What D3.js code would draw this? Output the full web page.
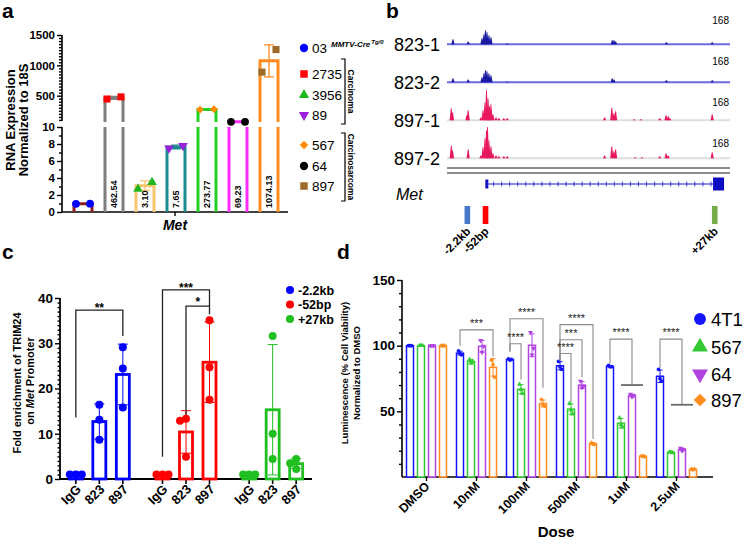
<!DOCTYPE html>
<html><head><meta charset="utf-8">
<script src="https://cdn.jsdelivr.net/npm/d3@7"></script>
<style>body{margin:0;background:#fff}svg{display:block}</style>
</head><body><svg id="c" width="745" height="547"></svg>
<script>
// ================= DATA =================
// Panel a : Met RNA expression
const aSamples = ["03","2735","3956","89","567","64","897"];
const aMeans   = [0.97, 462.54, 3.10, 7.65, 273.77, 69.23, 1074.13];
const aSD      = [0.02, 24.7, 0.57, 0.21, 5.3, 0.3, 263];
const aPoints  = [[0.96,0.98],[445.1,480.0],[2.7,3.5],[7.5,7.8],[270.0,277.5],[69.0,69.4],[888,1260]];
const aLowTicks  = [0,2,4,6,8,10];
const aHighTicks = [500,1000,1500];
const aGroupNames = ["Carcinoma","Carcinosarcoma"];
const aGroupMembers = [["2735","3956","89"],["567","64","897"]];

// Panel b : ChIP-seq tracks (peak position in kb from Met TSS, signal 0-168)
const bTracks = ["823-1","823-2","897-1","897-2"];
const bRange = 168;
const bPeaks823_1 = [[-3.9,24],[-2.1,14],[-0.47,29],[-0.24,48],[-0.06,67],[0.12,58],[0.35,43],[0.59,34],[2.5,5],[14.9,19],[15.1,19],[15.3,14],[21.3,10],[26.7,10]];
const bPeaks823_2 = [[-3.9,19],[-2.1,14],[-0.47,24],[-0.24,43],[-0.06,58],[0.12,53],[0.35,43],[0.59,34],[2.5,4],[14.9,19],[15.1,14],[21.3,10],[26.7,10]];
const bPeaks897_1 = [[-4.1,58],[-3.95,38],[-2.25,24],[-2.1,48],[-0.6,14],[-0.35,48],[-0.12,86],[0.06,144],[0.24,106],[0.41,67],[0.59,77],[0.82,29],[1.18,14],[1.53,10],[2.1,10],[2.5,10],[14.0,14],[14.85,62],[15.1,34],[15.3,43],[17.5,5],[18.3,5],[20.5,10],[21.25,24],[21.5,19],[21.7,10],[26.7,29]];
const bPeaks897_2 = [[-4.1,62],[-3.95,38],[-2.1,43],[-0.6,14],[-0.35,53],[-0.12,96],[0.06,134],[0.18,150],[0.35,86],[0.59,58],[0.82,24],[1.18,14],[1.53,10],[2.1,10],[2.5,10],[14.0,14],[14.85,58],[15.1,34],[15.3,43],[17.6,5],[18.4,5],[20.5,10],[21.25,24],[21.5,14],[26.7,29]];
const bSites   = ["-2.2kb","-52bp","+27kb"];
const bSitePos = [-2.2, -0.052, 27];
const bGeneSpan = [0.1, 27.5];

// Panel c : TRIM24 ChIP-qPCR
const cSites = ["-2.2kb","-52bp","+27kb"];
const cConds = ["IgG","823","897"];
const cMeans = [[1,12.7,23.1],[1,10.4,25.8],[1,15.3,3.4]];
const cSD    = [[0,3.9,6.7],[0,4.7,8.9],[0,14.4,1.1]];
const cPoints = [
  [[1,1,1],[16.4,13.1,8.7],[29.1,24.4,15.8]],
  [[1,1,1],[13.3,12.9,4.9],[35.1,24.7,17.5]],
  [[1,1,1],[31.6,10.0,4.4],[4.4,3.5,2.2]]
];
const cTicks = [0,10,20,30,40];
const cSig = [
  {site:"-2.2kb", a:"IgG", b:"897", top:37.3, ya:13.6, yb:31.6, label:"**"},
  {site:"-52bp",  a:"IgG", b:"897", top:41.8, ya:4.9,  yb:38.2, label:"***"},
  {site:"-52bp",  a:"823", b:"897", top:38.2, ya:14.2, yb:36.4, label:"*"}
];

// Panel d : cell viability
const dDoses = ["DMSO","10nM","100nM","500nM","1uM","2.5uM"];
const dCells = ["4T1","567","64","897"];
const dMeans = [
  [100,100,100,100],[94.3,88,99.5,83.5],[89.5,66.8,100.3,56],
  [84.7,51.7,70,25.3],[84.3,41,62,15.8],[76.7,18.8,21,5.8]
];
const dSD = [
  [0.4,0.4,0.4,0.4],[1.5,1.5,4.5,6.7],[0.5,3.5,8.7,2.6],
  [3.1,4,2.6,0.6],[0.6,3.6,1,0.3],[4.7,0.3,1,0.3]
];
const dPoints = [
  [[100,100,100],[100,100,100],[100,100,100],[100,100,100]],
  [[96,94,93],[89.5,86.5,88],[104,95,99.5],[89,85.5,76]],
  [[90,89,89.5],[70.5,66.5,63.5],[110,93,98],[59,55,54]],
  [[88,84,82],[56,51,48],[73,68,69],[26,25,25]],
  [[85,84,84],[45,40,38],[63,61,62],[16,16,15.5]],
  [[82,75,73],[19,19,18.5],[22,20,21],[6,5.5,6]]
];
const dTicks = [50,100,150];
const dSig = [
  {dose:"10nM",  a:"4T1", b:"897", top:112,   ya:100,  yb:91.7, label:"***"},
  {dose:"100nM", a:"4T1", b:"897", top:120.5, ya:95.5, yb:68,   label:"****"},
  {dose:"100nM", a:"4T1", b:"567", top:101.5, ya:95.5, yb:74,   label:"****"},
  {dose:"500nM", a:"4T1", b:"897", top:116,   ya:88.5, yb:29,   label:"****"},
  {dose:"500nM", a:"4T1", b:"64",  top:104.5, ya:88.5, yb:76,   label:"***"},
  {dose:"500nM", a:"4T1", b:"567", top:94,    ya:88.5, yb:57,   label:"****"},
  {dose:"1uM",   a:"4T1", b:"64",  top:105,   ya:86.5, yb:70,   label:"****", span:["567","897"]},
  {dose:"2.5uM", a:"4T1", b:"64",  top:105,   ya:83,   yb:55,   label:"****", span:["567","897"]}
];

// ================= DRAWING =================
const F = '"Liberation Sans", Arial, Helvetica, sans-serif';
const svg = d3.select("#c");
svg.append("rect").attr("width",745).attr("height",547).attr("fill","#fff");

function txt(g, s, x, y, o={}) {
  const t = g.append("text").attr("x",x).attr("y",y).text(s)
    .attr("font-family",F).attr("font-size",o.size||12)
    .attr("font-weight",o.weight||"normal").attr("fill",o.fill||"#000")
    .attr("text-anchor",o.anchor||"start");
  if (o.style) t.attr("font-style",o.style);
  if (o.rotate!==undefined) t.attr("transform",`rotate(${o.rotate},${x},${y})`);
  return t;
}
function styleAxis(g, fs) {
  g.selectAll("path.domain").remove();
  g.selectAll(".tick line").attr("stroke","#000").attr("stroke-width",1.4);
  g.selectAll(".tick text").attr("font-family",F).attr("font-size",fs)
    .attr("font-weight","bold").attr("fill","#000");
}
function symPath(type,size){ return d3.symbol().type(type).size(size)(); }

// panel letters
[["a",2,18],["b",386,18],["c",2,259],["d",337,259]].forEach(([l,x,y])=>
  txt(svg,l,x,y,{size:21,weight:"bold"}));

// ---------- Panel a ----------
(function(){
  const g = svg.append("g");
  const axX = 62, axY = 212;
  const x = d3.scalePoint().domain(aSamples).range([83,269]);
  const yL = d3.scaleLinear().domain([0,10]).range([212,127]);
  const yH = d3.scaleLinear().domain([0,1500]).range([126,35]);
  const lowTop = 127, highBot = 122;
  const yv = v => v<=10 ? yL(v) : yH(v);
  const barW = 18;
  const col = ["#8c1d1d","#7f7f7f","#f8c56e","#1d8a90","#22cf22","#ff2cff","#ff8b1e"];
  const mcol = ["#0000ff","#ff0000","#1eb81e","#9a1fd8","#ff8a00","#000000","#9e6a2a"];
  const shp = [d3.symbolCircle,d3.symbolSquare,d3.symbolTriangle,d3.symbolTriangle,d3.symbolSquare,d3.symbolCircle,d3.symbolSquare];
  const rot = [0,0,0,180,45,0,0];
  const ssz = [48,50,40,40,30,48,50];

  // axes
  g.append("line").attr("x1",axX).attr("x2",axX).attr("y1",lowTop).attr("y2",axY).attr("stroke","#000").attr("stroke-width",1.6);
  g.append("line").attr("x1",axX).attr("x2",axX).attr("y1",35).attr("y2",121).attr("stroke","#000").attr("stroke-width",1.6);
  g.append("line").attr("x1",axX).attr("x2",288).attr("y1",axY).attr("y2",axY).attr("stroke","#000").attr("stroke-width",1.6);
  g.append("g").attr("transform",`translate(${axX},0)`)
    .call(d3.axisLeft(yL).tickValues(aLowTicks).tickSize(5).tickPadding(2).tickFormat(d3.format("d")))
    .call(s=>styleAxis(s,11.5));
  g.append("g").attr("transform",`translate(${axX},0)`)
    .call(d3.axisLeft(yL).tickValues(d3.range(1,10,2)).tickSize(3).tickFormat(""))
    .call(s=>styleAxis(s,10));
  g.append("g").attr("transform",`translate(${axX},0)`)
    .call(d3.axisLeft(yH).tickValues(aHighTicks).tickSize(5).tickPadding(2).tickFormat(d3.format("d")))
    .call(s=>styleAxis(s,11.5));
  g.append("g").attr("transform",`translate(${axX},0)`)
    .call(d3.axisLeft(yH).tickValues(d3.range(100,1500,50).filter(v=>v%500)).tickSize(3).tickFormat(""))
    .call(s=>styleAxis(s,10));
  g.append("line").attr("x1",175).attr("x2",175).attr("y1",axY).attr("y2",axY+4).attr("stroke","#000").attr("stroke-width",1.4);
  txt(g,"Met",175,230,{size:14,weight:"bold",style:"italic",anchor:"middle"});
  txt(g,"RNA Expression",15,120,{size:13,weight:"bold",anchor:"middle",rotate:-90});
  txt(g,"Normalized to 18S",28,120,{size:13,weight:"bold",anchor:"middle",rotate:-90});

  aSamples.forEach((s,i)=>{
    const cx = x(s), x0 = cx-barW/2, x1 = cx+barW/2, m = aMeans[i];
    let d;
    if (m<=10) d = `M${x0},${yL(0)}V${yL(m)}H${x1}V${yL(0)}`;
    else d = `M${x0},${yL(0)}V${lowTop}M${x1},${yL(0)}V${lowTop}M${x0},${highBot}V${yH(m)}H${x1}V${highBot}`;
    g.append("path").attr("d",d).attr("fill","none").attr("stroke",col[i]).attr("stroke-width",3);
    // error bar
    const lo = m-aSD[i], hi = m+aSD[i];
    const ylo = m>10 ? Math.min(yH(lo),highBot) : yL(lo), yhi = yv(hi);
    g.append("path").attr("d",`M${cx},${ylo}V${yhi}M${cx-5},${yhi}H${cx+5}M${cx-5},${ylo}H${cx+5}`)
      .attr("stroke",col[i]).attr("stroke-width",1.3).attr("fill","none");
    // points
    aPoints[i].forEach((v,j)=>{
      g.append("path").attr("d",symPath(shp[i],ssz[i]))
        .attr("transform",`translate(${cx+(j?7:-7)},${yv(v)}) rotate(${rot[i]})`)
        .attr("fill",mcol[i]);
    });
    if (m>=1) txt(g,d3.format(".2f")(m),cx+3.3,208,{size:9,weight:"bold",rotate:-90});
  });

  // legend
  const ly = [48,74,95,115,145,166,186];
  aSamples.forEach((s,i)=>{
    g.append("path").attr("d",symPath(shp[i],ssz[i]+6))
      .attr("transform",`translate(304,${ly[i]}) rotate(${rot[i]})`).attr("fill",mcol[i]);
    txt(g,s,312,ly[i]+5,{size:13.5});
  });
  const sup = txt(g,"",331,47,{size:8,weight:"bold",style:"italic"});
  sup.append("tspan").text("MMTV-Cre");
  sup.append("tspan").text("Tg/0").attr("font-size",6).attr("dy",-3).attr("dx",1);
  // group brackets
  const gb = [[59,124],[133,201]];
  aGroupNames.forEach((n,k)=>{
    const [t,b] = gb[k];
    g.append("path").attr("d",`M341,${t}H345V${b}H341`).attr("fill","none").attr("stroke","#000").attr("stroke-width",1.2);
    txt(g,n,348,(t+b)/2,{size:8.5,weight:"bold",anchor:"middle",rotate:90});
  });
})();

// ---------- Panel b ----------
(function(){
  const g = svg.append("g");
  const x = d3.scaleLinear().domain([-4.6,28.8]).range([447,730]);
  const h = d3.scaleLinear().domain([0,bRange]).range([0,35]);
  const base = d3.scalePoint().domain(bTracks).range([44.3,158.3]);
  const lab168 = d3.scalePoint().domain(bTracks).range([24,147]);
  const peaks = [bPeaks823_1,bPeaks823_2,bPeaks897_1,bPeaks897_2];
  const pcol = ["#1a1aa0","#1a1aa0","#e8185e","#e8185e"];
  const lcol = ["#6a6ae0","#6a6ae0","#dedede","#dedede"];
  bTracks.forEach((t,i)=>{
    const b = base(t);
    g.append("line").attr("x1",447).attr("x2",730).attr("y1",b).attr("y2",b).attr("stroke",lcol[i]).attr("stroke-width",2);
    g.selectAll(null).data(peaks[i]).enter().append("path")
      .attr("d",d=>{const px=x(d[0]),ph=h(d[1]);return `M${px-1.6},${b}L${px-0.4},${b-ph}L${px+0.4},${b-ph}L${px+1.6},${b}Z`;})
      .attr("fill",pcol[i]);
    txt(g,t,394,b+7,{size:18});
    txt(g,String(bRange),729,lab168(t),{size:10,anchor:"end"});
  });
  [168,173].forEach(y=>g.append("line").attr("x1",447).attr("x2",730).attr("y1",y).attr("y2",y).attr("stroke","#8c8c8c").attr("stroke-width",2));
  txt(g,"Met",396,200,{size:16,style:"italic"});
  const gy = 184;
  g.append("line").attr("x1",x(bGeneSpan[0])).attr("x2",x(bGeneSpan[1])).attr("y1",gy).attr("y2",gy).attr("stroke","#1f1fc8").attr("stroke-width",1.2);
  g.selectAll(null).data(d3.range(0.9,26.8,0.95)).enter().append("line")
    .attr("x1",d=>x(d)).attr("x2",d=>x(d)).attr("y1",gy-2.5).attr("y2",gy+2.5).attr("stroke","#1f1fc8").attr("stroke-width",0.8);
  g.append("rect").attr("x",x(bGeneSpan[0])-1.5).attr("y",gy-4.5).attr("width",3).attr("height",9).attr("fill","#1212c0");
  g.append("rect").attr("x",x(26.8)).attr("y",gy-6.5).attr("width",x(28.1)-x(26.8)).attr("height",13).attr("fill","#0c0cc0");
  const scol = ["#4a78c8","#ff0000","#74ac48"];
  bSites.forEach((s,i)=>{
    const px = x(bSitePos[i]);
    g.append("rect").attr("x",px-2.8).attr("y",206).attr("width",5.6).attr("height",18).attr("fill",scol[i]);
    txt(g,s,px+4,232,{size:11.5,weight:"bold",anchor:"end",rotate:-45});
  });
})();

// ---------- Panel c ----------
(function(){
  const g = svg.append("g");
  const x0 = d3.scaleBand().domain(cSites).range([56,316]);
  const x1 = d3.scalePoint().domain(cConds).range([-23.5,23.5]);
  const y = d3.scaleLinear().domain([0,40]).range([479,298]);
  const col = ["#0000ff","#ff0000","#1fbf1f"];
  const cxOf = (s,c)=>x0(s)+x0.bandwidth()/2+x1(c);
  g.append("line").attr("x1",60).attr("x2",60).attr("y1",298).attr("y2",479).attr("stroke","#000").attr("stroke-width",1.8);
  g.append("line").attr("x1",60).attr("x2",312).attr("y1",479).attr("y2",479).attr("stroke","#000").attr("stroke-width",1.8);
  g.append("g").attr("transform","translate(60,0)")
    .call(d3.axisLeft(y).tickValues(cTicks).tickSize(5).tickPadding(2).tickFormat(d3.format("d"))).call(s=>styleAxis(s,13.5));
  g.append("g").attr("transform","translate(60,0)")
    .call(d3.axisLeft(y).tickValues(d3.range(1,40).filter(v=>v%10)).tickSize(2.5).tickFormat("")).call(s=>styleAxis(s,10));
  txt(g,"Fold enrichment of TRIM24",21,383,{size:11,weight:"bold",anchor:"middle",rotate:-90});
  const t2 = txt(g,"",34,381,{size:11,weight:"bold",anchor:"middle",rotate:-90});
  t2.append("tspan").text("on ");
  t2.append("tspan").text("Met").attr("font-style","italic");
  t2.append("tspan").text(" Promoter");

  cSites.forEach((s,i)=>{
    cConds.forEach((c,j)=>{
      const cx = cxOf(s,c), m = cMeans[i][j], sd = cSD[i][j];
      g.append("line").attr("x1",cx).attr("x2",cx).attr("y1",479).attr("y2",484).attr("stroke","#000").attr("stroke-width",1.6);
      txt(g,c,cx+6,490,{size:13,weight:"bold",anchor:"end",rotate:-45});
      g.append("rect").attr("x",cx-6.5).attr("y",y(m)).attr("width",13).attr("height",y(0)-y(m))
        .attr("fill","none").attr("stroke",col[i]).attr("stroke-width",2.8);
      if (sd>0) {
        g.append("path").attr("d",`M${cx},${y(m-sd)}V${y(m+sd)}M${cx-5},${y(m+sd)}H${cx+5}M${cx-5},${y(m-sd)}H${cx+5}`)
          .attr("stroke",col[i]).attr("stroke-width",1).attr("fill","none");
      }
      const placed = [];
      cPoints[i][j].forEach(v=>{
        const py = y(v);
        const near = placed.filter(p=>Math.abs(p.y-py)<7);
        const off = near.length ? [0,-6,6,-12,12].find(o=>!near.some(p=>p.off===o)) : 0;
        placed.push({y:py,off});
        g.append("circle").attr("cx",cx+off).attr("cy",py).attr("r",4).attr("fill",col[i]);
      });
    });
  });
  cSig.forEach(s=>{
    const xa = cxOf(s.site,s.a), xb = cxOf(s.site,s.b), yt = y(s.top);
    g.append("path").attr("d",`M${xa},${y(s.ya)}V${yt}H${xb}V${y(s.yb)}`).attr("fill","none").attr("stroke","#222").attr("stroke-width",1.3);
    txt(g,s.label,(xa+xb)/2,yt+(s.label.length===1?0:2),{size:12,weight:"bold",anchor:"middle"});
  });
  // legend
  cSites.forEach((s,i)=>{
    const ly = 290 + i*14.5;
    g.append("circle").attr("cx",290).attr("cy",ly).attr("r",4).attr("fill",col[i]);
    txt(g,s,298,ly+4.5,{size:12.5,weight:"bold"});
  });
})();

// ---------- Panel d ----------
(function(){
  const g = svg.append("g");
  const x0 = d3.scaleBand().domain(dDoses).range([401.5,701.5]);
  const x1 = d3.scalePoint().domain(dCells).range([8.5,41.5]);
  const y = d3.scaleLinear().domain([0,150]).range([477,280]);
  const col = ["#1414ff","#33c933","#b044e0","#ff8c1e"];
  const shp = [d3.symbolCircle,d3.symbolTriangle,d3.symbolTriangle,d3.symbolSquare];
  const rot = [0,0,180,45];
  const cxOf = (d,c)=>x0(d)+x1(c);
  g.append("line").attr("x1",402).attr("x2",402).attr("y1",280).attr("y2",477).attr("stroke","#000").attr("stroke-width",1.6);
  g.append("line").attr("x1",402).attr("x2",713).attr("y1",477).attr("y2",477).attr("stroke","#000").attr("stroke-width",1.6);
  g.append("g").attr("transform","translate(402,0)")
    .call(d3.axisLeft(y).tickValues(dTicks).tickSize(5).tickPadding(2).tickFormat(d3.format("d"))).call(s=>styleAxis(s,13.5));
  g.append("g").attr("transform","translate(402,0)")
    .call(d3.axisLeft(y).tickValues(d3.range(10,150,10).filter(v=>v%50)).tickSize(3).tickFormat("")).call(s=>styleAxis(s,10));
  txt(g,"Luminescence (% Cell Viability)",348,373,{size:9.5,weight:"bold",anchor:"middle",rotate:-90});
  txt(g,"Normalized to DMSO",360,373,{size:9.5,weight:"bold",anchor:"middle",rotate:-90});
  txt(g,"Dose",556,537,{size:15,weight:"bold",anchor:"middle"});

  dDoses.forEach((d,i)=>{
    const gc = x0(d)+x0.bandwidth()/2;
    g.append("line").attr("x1",gc).attr("x2",gc).attr("y1",477).attr("y2",481).attr("stroke","#000").attr("stroke-width",1.4);
    txt(g,d,gc+4,487,{size:12.5,weight:"bold",anchor:"end",rotate:-45});
    dCells.forEach((c,j)=>{
      const cx = cxOf(d,c), m = dMeans[i][j], sd = dSD[i][j];
      g.append("rect").attr("x",cx-3.5).attr("y",y(m)).attr("width",7).attr("height",y(0)-y(m))
        .attr("fill","#fff").attr("stroke",col[j]).attr("stroke-width",1.5);
      g.append("path").attr("d",`M${cx},${y(m-sd)}V${y(m+sd)}M${cx-2.5},${y(m+sd)}H${cx+2.5}M${cx-2.5},${y(m-sd)}H${cx+2.5}`)
        .attr("stroke",col[j]).attr("stroke-width",1).attr("fill","none");
      dPoints[i][j].forEach((v,k)=>{
        g.append("path").attr("d",symPath(shp[j],11))
          .attr("transform",`translate(${cx+(k-1)*1.5},${y(v)}) rotate(${rot[j]})`).attr("fill",col[j]);
      });
    });
  });
  dSig.forEach(s=>{
    const xa = cxOf(s.dose,s.a), xb = cxOf(s.dose,s.b), yt = y(s.top);
    g.append("path").attr("d",`M${xa},${y(s.ya)}V${yt}H${xb}V${y(s.yb)}`).attr("fill","none").attr("stroke","#8a8a8a").attr("stroke-width",1.1);
    if (s.span) g.append("line").attr("x1",cxOf(s.dose,s.span[0])).attr("x2",cxOf(s.dose,s.span[1]))
      .attr("y1",y(s.yb)).attr("y2",y(s.yb)).attr("stroke","#6a6a6a").attr("stroke-width",1.8);
    txt(g,s.label,(xa+xb)/2,yt-3,{size:11,anchor:"middle",fill:"#222"});
  });
  // legend
  const ly = [319,347,374,400];
  dCells.forEach((c,j)=>{
    g.append("path").attr("d",symPath(shp[j],j===3?80:110))
      .attr("transform",`translate(700,${ly[j]}) rotate(${rot[j]})`).attr("fill",col[j]);
    txt(g,c,711,ly[j]+7,{size:18.5});
  });
})();
</script></body></html>
